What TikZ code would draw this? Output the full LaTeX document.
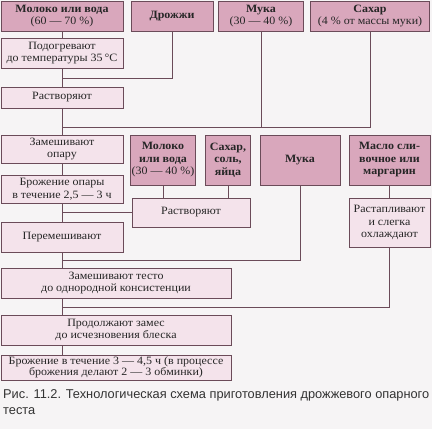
\documentclass[tikz,border=0pt]{standalone}
\usepackage{fontspec}
\setmainfont{Liberation Serif}[FakeStretch=1.07]
\newfontfamily\capfont{Liberation Sans}
\usepackage{xcolor}
\usetikzlibrary{positioning, calc}
\definecolor{SchemeMauve}{HTML}{D9A7BC}
\definecolor{SchemePale}{HTML}{F4E3EB}
\definecolor{SchemeLine}{HTML}{6B4B59}
\definecolor{SchemePaper}{HTML}{F6F4F5}

\begin{document}
\begin{tikzpicture}[x=1pt, y=1pt,
  box/.style={draw=SchemeLine, line width=0.9pt, align=center, inner sep=1pt,
    font=\fontsize{11.2}{12.5}\selectfont, text=black!85},
  ingr/.style={box, fill=SchemeMauve},
  oper/.style={box, fill=SchemePale},
  link/.style={draw=SchemeLine, line width=0.9pt}]
  \fill[SchemePaper] (0,0) rectangle (432,-429);
  \useasboundingbox (0,0) rectangle (432,-429);
  % raw materials, top row
  \node[ingr, minimum width=122pt, minimum height=30pt] (milkA) at (62,-16) {\textbf{Молоко или вода}\\(60 — 70 \%)};
  \node[ingr, minimum width=82pt, minimum height=30pt] (yeast) at (172,-16) {\textbf{Дрожжи}};
  \node[ingr, minimum width=85pt, minimum height=30pt] (flourA) at (261,-16) {\textbf{Мука}\\(30 — 40 \%)};
  \node[ingr, minimum width=119pt, minimum height=30pt] (sugarA) at (370,-16) {\textbf{Сахар}\\(4 \% от массы муки)};
  % sponge
  \node[oper, minimum width=122pt, minimum height=30pt] (heat) at (62,-53) {Подогревают\\до температуры 35\,°С};
  \node[oper, minimum width=122pt, minimum height=21pt] (dissA) at (62,-97.5) {Растворяют};
  \node[oper, minimum width=122pt, minimum height=28pt] (kneadA) at (62,-149) {Замешивают\\опару};
  \node[oper, minimum width=122pt, minimum height=28pt] (fermA) at (62,-189) {Брожение опары\\в течение 2,5 — 3 ч};
  \node[oper, minimum width=122pt, minimum height=30pt] (mix) at (62,-237) {Перемешивают};
  % raw materials, second row
  \node[ingr, minimum width=63pt, minimum height=50pt] (milkB) at (163,-160) {\textbf{Молоко}\\\textbf{или вода}\\(30 — 40 \%)};
  \node[ingr, minimum width=45pt, minimum height=50pt] (sugarB) at (228,-160) {\textbf{Сахар,}\\\textbf{соль,}\\\textbf{яйца}};
  \node[ingr, minimum width=80pt, minimum height=50pt] (flourB) at (300,-160) {\textbf{Мука}};
  \node[ingr, minimum width=81pt, minimum height=50pt] (butter) at (389.5,-160) {\textbf{Масло сли-}\\\textbf{вочное или}\\\textbf{маргарин}};
  \node[oper, minimum width=118pt, minimum height=29pt] (dissB) at (191,-212.5) {Растворяют};
  \node[oper, minimum width=81pt, minimum height=49pt] (melt) at (389.5,-222.5) {Растапливают\\и слегка\\охлаждают};
  % dough
  \node[oper, minimum width=230pt, minimum height=30pt] (dough) at (116,-283) {Замешивают тесто\\до однородной консистенции};
  \node[oper, minimum width=230pt, minimum height=30pt] (cont) at (116,-330) {Продолжают замес\\до исчезновения блеска};
  \node[oper, minimum width=230pt, minimum height=25pt, font=\fontsize{11.2}{11}\selectfont] (fermB) at (116,-367.5) {Брожение в течение 3 — 4,5 ч (в процессе\\брожения делают 2 — 3 обминки)};
  \node[anchor=north west, align=left, inner sep=0pt, text=black!80,
    font=\capfont\fontsize{12.8}{16}\selectfont] (caption) at (3,-389)
    {Рис. 11.2. Технологическая схема приготовления дрожжевого опарного\\теста};
  % joints on the main line
  \coordinate (jYeast) at (62,-78);
  \coordinate (jFlour) at (62,-127);
  \coordinate (jDiss) at (62,-212.5);
  \coordinate (jFlourB) at (62,-260);
  \coordinate (jMelt) at (62,-307);
  % connectors
  \draw[link] (milkA.south) -- (heat.north);
  \draw[link] (heat.south) -- (dissA.north);
  \draw[link] (dissA.south) -- (kneadA.north);
  \draw[link] (kneadA.south) -- (fermA.north);
  \draw[link] (fermA.south) -- (mix.north);
  \draw[link] (mix.south) -- (mix.south |- dough.north);
  \draw[link] (mix.south |- dough.south) -- (mix.south |- cont.north);
  \draw[link] (mix.south |- cont.south) -- (mix.south |- fermB.north);
  \draw[link] (yeast.south) |- (jYeast);
  \draw[link] (flourA.south) |- (jFlour);
  \draw[link] (sugarA.south) |- (jFlour);
  \draw[link] (milkB.south) -- (milkB.south |- dissB.north);
  \draw[link] (sugarB.south) -- (sugarB.south |- dissB.north);
  \draw[link] (dissB.west) -- (jDiss);
  \draw[link] (flourB.south) |- (jFlourB);
  \draw[link] (butter.south) -- (melt.north);
  \draw[link] (melt.south) |- (jMelt);
\end{tikzpicture}
\end{document}
